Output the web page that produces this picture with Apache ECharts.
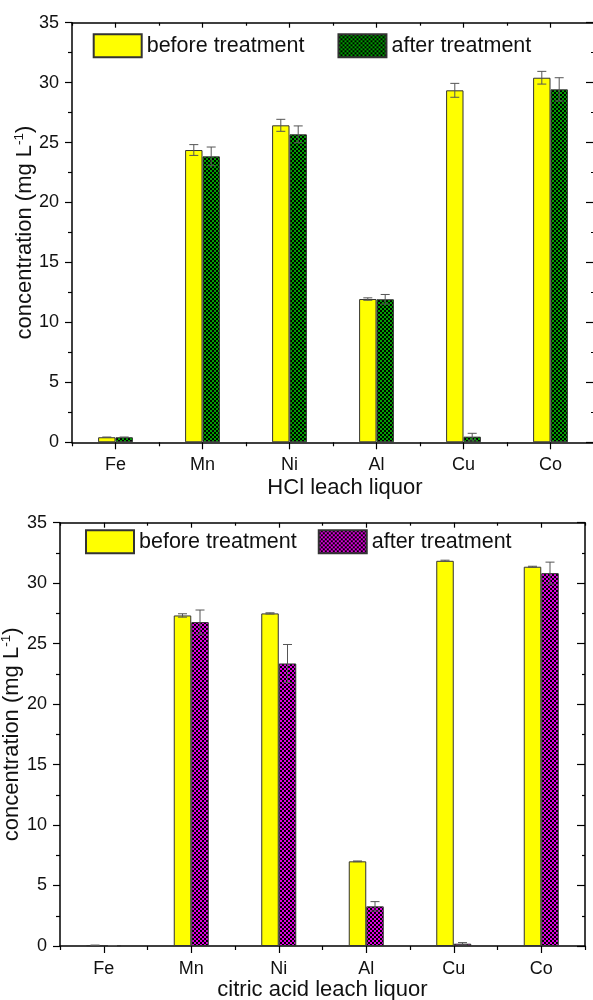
<!DOCTYPE html>
<html>
<head>
<meta charset="utf-8">
<script src="https://cdn.jsdelivr.net/npm/echarts@6/dist/echarts.min.js"></script>
<style>
html,body{margin:0;padding:0;background:#fff;}
#c1,#c2{position:absolute;left:0;width:593px;height:500px;}
#c1{top:0;} #c2{top:500px;}
</style>
</head>
<body>
<div id="c1"></div>
<div id="c2"></div>
<script>
// ---- data ----
const categories = ['Fe', 'Mn', 'Ni', 'Al', 'Cu', 'Co'];
const seriesNames = ['before treatment', 'after treatment'];
const hclBefore    = [0.42, 24.38, 26.44, 11.95, 29.36, 30.41];
const hclBeforeErr = [0.02, 0.45, 0.50, 0.10, 0.58, 0.53];
const hclAfter     = [0.42, 23.85, 25.69, 11.93, 0.47, 29.44];
const hclAfterErr  = [0.02, 0.78, 0.70, 0.40, 0.28, 0.97];
const citBefore    = [0.06, 27.33, 27.50, 7.00, 31.85, 31.36];
const citBeforeErr = [0.01, 0.14, 0.05, 0.03, 0.05, 0.04];
const citAfter     = [0.03, 26.78, 23.36, 3.28, 0.19, 30.83];
const citAfterErr  = [0.01, 1.00, 1.57, 0.39, 0.09, 0.91];
const yTicks = { min: 0, max: 35, interval: 5 };
const xTitles = ['HCl leach liquor', 'citric acid leach liquor'];

// ---- styles ----
const FONT = 'Liberation Sans, Arial, sans-serif';
const TXT = '#111';

function makePattern(color) {
  const c = document.createElement('canvas');
  c.width = 4; c.height = 4;
  const g = c.getContext('2d');
  g.fillStyle = '#000'; g.fillRect(0, 0, 4, 4);
  g.fillStyle = color;
  g.fillRect(0, 0, 2, 2); g.fillRect(2, 2, 2, 2);
  return { image: c, repeat: 'repeat' };
}

function errData(vals, errs, side) {
  return vals.map((v, i) => [i, v, errs[i], side]);
}

function renderErr(params, api) {
  const cat = api.value(0), val = api.value(1), err = api.value(2), side = api.value(3);
  const bw = api.size([1, 0])[0] * 0.2;
  const x = api.coord([cat, val])[0] + side * bw / 2;
  const yt = api.coord([cat, val + err])[1];
  const yb = api.coord([cat, Math.max(0, val - err)])[1];
  const h = 4.5;
  const st = { stroke: '#555', lineWidth: 1 };
  return {
    type: 'group',
    children: [
      { type: 'line', shape: { x1: x, y1: yt, x2: x, y2: yb }, style: st },
      { type: 'line', shape: { x1: x - h, y1: yt, x2: x + h, y2: yt }, style: st },
      { type: 'line', shape: { x1: x - h, y1: yb, x2: x + h, y2: yb }, style: st }
    ]
  };
}

function buildOption(cfg) {
  const axLine = { show: true, lineStyle: { color: '#000', width: 1.5 } };
  const tickSt = { color: '#000', width: 1.2 };
  const xBase = { type: 'category', data: categories, gridIndex: 0 };
  const yBase = Object.assign({ type: 'value', splitLine: { show: false } }, yTicks);
  return {
    animation: false,
    textStyle: { fontFamily: FONT },
    grid: { left: cfg.left, top: cfg.top, width: cfg.width, height: cfg.height,
            containLabel: false, outerBoundsMode: 'none' },
    legend: {
      data: seriesNames,
      left: cfg.legLeft, top: cfg.legTop,
      itemWidth: 48, itemHeight: 23, itemGap: cfg.legGap, padding: 0,
      icon: 'rect', selectedMode: false,
      textStyle: { fontSize: 21.5, color: TXT, fontFamily: FONT }
    },
    xAxis: [
      Object.assign({}, xBase, {
        position: 'bottom',
        axisLine: axLine,
        axisTick: { show: true, alignWithLabel: true, length: 7, inside: false, lineStyle: tickSt },
        axisLabel: { fontSize: 18, color: TXT, margin: 14, fontFamily: FONT },
        name: cfg.xTitle, nameLocation: 'middle', nameGap: cfg.xNameGap, nameMoveOverlap: false,
        nameTextStyle: { fontSize: 22, color: TXT, fontFamily: FONT, padding: cfg.xNamePad }
      }),
      Object.assign({}, xBase, {
        position: 'bottom',
        axisLine: { show: false },
        axisTick: { show: true, length: 4, lineStyle: tickSt },
        axisLabel: { show: false }
      }),
      Object.assign({}, xBase, {
        position: 'top',
        axisLine: axLine,
        axisTick: { show: true, alignWithLabel: true, inside: true, length: 5, lineStyle: tickSt },
        axisLabel: { show: false }
      }),
      Object.assign({}, xBase, {
        position: 'top',
        axisLine: { show: false },
        axisTick: { show: true, inside: true, length: 3, lineStyle: tickSt },
        axisLabel: { show: false }
      })
    ],
    yAxis: [
      Object.assign({}, yBase, {
        position: 'left',
        axisLine: axLine,
        axisTick: { show: true, length: 7, lineStyle: tickSt },
        minorTick: { show: true, splitNumber: 2, length: 4, lineStyle: tickSt },
        axisLabel: { fontSize: 18, color: TXT, margin: 13, fontFamily: FONT },
        name: 'concentration (mg L{sup|-1})',
        nameLocation: 'middle', nameGap: cfg.yNameGap, nameRotate: 90, nameMoveOverlap: false,
        nameTextStyle: {
          fontSize: 22, color: TXT, fontFamily: FONT,
          rich: { sup: { fontSize: 13.5, color: TXT, fontFamily: FONT, verticalAlign: 'top', padding: [0, 0, 11, 0] } }
        }
      }),
      Object.assign({}, yBase, {
        position: 'right',
        axisLine: axLine,
        axisTick: { show: true, inside: true, length: 8, lineStyle: tickSt },
        minorTick: { show: true, splitNumber: 2, length: 3, lineStyle: tickSt },
        axisLabel: { show: false }
      })
    ],
    series: [
      {
        name: seriesNames[0], type: 'bar', data: cfg.before,
        barWidth: '20%', barGap: '0%',
        itemStyle: { color: '#ffff00', borderColor: '#333', borderWidth: 1 }
      },
      {
        name: seriesNames[1], type: 'bar', data: cfg.after,
        barWidth: '20%', barGap: '0%',
        itemStyle: { color: makePattern(cfg.afterColor), borderColor: '#333', borderWidth: 1 }
      },
      {
        name: 'err1', type: 'custom', renderItem: renderErr, z: 5,
        data: errData(cfg.before, cfg.beforeErr, -1)
      },
      {
        name: 'err2', type: 'custom', renderItem: renderErr, z: 5,
        data: errData(cfg.after, cfg.afterErr, 1)
      }
    ]
  };
}

const ch1 = echarts.init(document.getElementById('c1'), null, { renderer: 'canvas' });
ch1.setOption(buildOption({
  left: 72, top: 22.7, width: 522, height: 419.6,
  legLeft: 92.7, legTop: 33.3, legGap: 33,
  xTitle: xTitles[0], xNamePad: [0, 0, 0, 24], xNameGap: 35, yNameGap: 35,
  before: hclBefore, beforeErr: hclBeforeErr, after: hclAfter, afterErr: hclAfterErr,
  afterColor: '#00a000'
}));

const ch2 = echarts.init(document.getElementById('c2'), null, { renderer: 'canvas' });
ch2.setOption(buildOption({
  left: 60, top: 22.7, width: 525, height: 423.3,
  legLeft: 85, legTop: 29.3, legGap: 21,
  xTitle: xTitles[1], xNamePad: [0, 0, 0, 0], xNameGap: 33, yNameGap: 35.5,
  before: citBefore, beforeErr: citBeforeErr, after: citAfter, afterErr: citAfterErr,
  afterColor: '#e000e0'
}));
</script>
</body>
</html>
